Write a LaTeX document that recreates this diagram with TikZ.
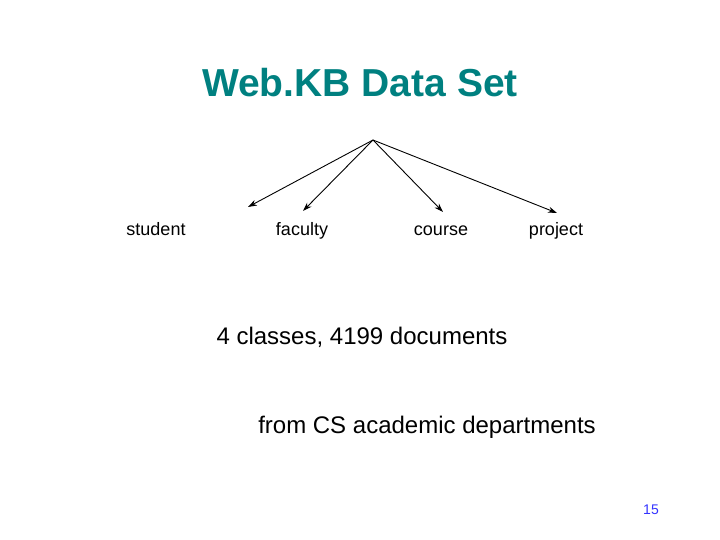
\documentclass[tikz,border=0pt]{standalone}
\usepackage{fontspec}
\setmainfont{Liberation Sans}
\usetikzlibrary{arrows.meta}
\definecolor{teal1}{RGB}{0,128,128}
\begin{document}
\begin{tikzpicture}[x=1pt,y=-1pt,
  lbl/.style={font=\fontsize{18}{20}\selectfont,anchor=base},
  arr/.style={-{Stealth[length=9pt,width=6pt]},line width=0.9pt}]
\useasboundingbox (0,0) rectangle (720,540);
\node[font=\bfseries\fontsize{39}{44}\selectfont,text=teal1] (title) at (360,83) {Web.KB Data Set};
\coordinate (apex) at (373,140);
\node[lbl] (student) at (156,236) {student};
\node[lbl] (faculty) at (302,236) {faculty};
\node[lbl] (course) at (441,236) {course};
\node[lbl] (project) at (556,236) {project};
\coordinate (e1) at (248,207);
\coordinate (e2) at (303,211);
\coordinate (e3) at (443,212);
\coordinate (e4) at (557,213);
\draw[arr] (apex) -- (e1);
\draw[arr] (apex) -- (e2);
\draw[arr] (apex) -- (e3);
\draw[arr] (apex) -- (e4);
\node[font=\fontsize{24}{28}\selectfont] (cls) at (362,337) {4 classes, 4199 documents};
\node[font=\fontsize{24}{28}\selectfont] (from) at (427,427) {from CS academic departments};
\node[font=\fontsize{14}{16}\selectfont,text=blue!80!white] (pg) at (651,510) {15};
\end{tikzpicture}
\end{document}
